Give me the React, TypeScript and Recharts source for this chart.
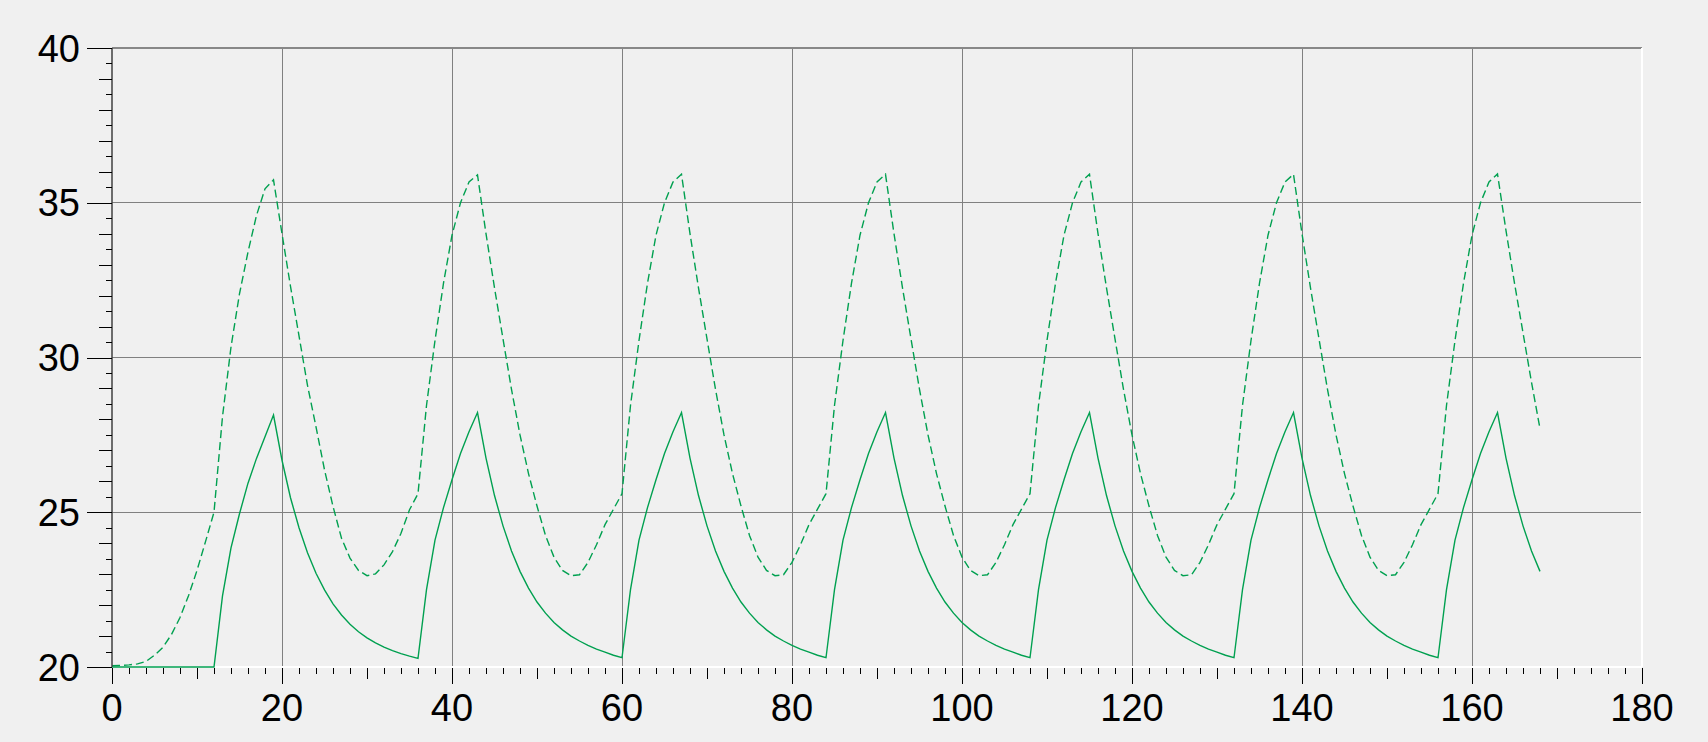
import React from 'react';
import { LineChart, Line, XAxis, YAxis, ReferenceLine } from 'recharts';

const hours = [
  0, 1, 2, 3, 4, 5, 6, 7, 8, 9, 10, 11, 12, 13, 14, 15, 16, 17, 18, 19,
  20, 21, 22, 23, 24, 25, 26, 27, 28, 29, 30, 31, 32, 33, 34, 35, 36, 37, 38, 39,
  40, 41, 42, 43, 44, 45, 46, 47, 48, 49, 50, 51, 52, 53, 54, 55, 56, 57, 58, 59,
  60, 61, 62, 63, 64, 65, 66, 67, 68, 69, 70, 71, 72, 73, 74, 75, 76, 77, 78, 79,
  80, 81, 82, 83, 84, 85, 86, 87, 88, 89, 90, 91, 92, 93, 94, 95, 96, 97, 98, 99,
  100, 101, 102, 103, 104, 105, 106, 107, 108, 109, 110, 111, 112, 113, 114, 115, 116, 117, 118, 119,
  120, 121, 122, 123, 124, 125, 126, 127, 128, 129, 130, 131, 132, 133, 134, 135, 136, 137, 138, 139,
  140, 141, 142, 143, 144, 145, 146, 147, 148, 149, 150, 151, 152, 153, 154, 155, 156, 157, 158, 159,
  160, 161, 162, 163, 164, 165, 166, 167, 168,
];

// solid line
const solidTemp = [
  20.0, 20.0, 20.0, 20.0, 20.0, 20.0, 20.0, 20.0, 20.0, 20.0, 20.0, 20.0, 20.0,
  22.3, 23.85, 24.95, 25.94, 26.74, 27.44, 28.14,
  26.68, 25.47, 24.5, 23.69, 23.03, 22.49, 22.04, 21.68, 21.38, 21.14, 20.94, 20.78, 20.64, 20.53, 20.43, 20.35, 20.28,
  22.5, 24.1, 25.15, 26.05, 26.9, 27.6, 28.22,
  26.75, 25.54, 24.56, 23.75, 23.09, 22.55, 22.1, 21.74, 21.44, 21.2, 21.0, 20.84, 20.7, 20.58, 20.48, 20.38, 20.3,
  22.5, 24.1, 25.15, 26.05, 26.9, 27.6, 28.22,
  26.75, 25.54, 24.56, 23.75, 23.09, 22.55, 22.1, 21.74, 21.44, 21.2, 21.0, 20.84, 20.7, 20.58, 20.48, 20.38, 20.3,
  22.5, 24.1, 25.15, 26.05, 26.9, 27.6, 28.22,
  26.75, 25.54, 24.56, 23.75, 23.09, 22.55, 22.1, 21.74, 21.44, 21.2, 21.0, 20.84, 20.7, 20.58, 20.48, 20.38, 20.3,
  22.5, 24.1, 25.15, 26.05, 26.9, 27.6, 28.22,
  26.75, 25.54, 24.56, 23.75, 23.09, 22.55, 22.1, 21.74, 21.44, 21.2, 21.0, 20.84, 20.7, 20.58, 20.48, 20.38, 20.3,
  22.5, 24.1, 25.15, 26.05, 26.9, 27.6, 28.22,
  26.75, 25.54, 24.56, 23.75, 23.09, 22.55, 22.1, 21.74, 21.44, 21.2, 21.0, 20.84, 20.7, 20.58, 20.48, 20.38, 20.3,
  22.5, 24.1, 25.15, 26.05, 26.9, 27.6, 28.22,
  26.75, 25.54, 24.56, 23.75, 23.09,
];

// dashed line
const dashedTemp = [
  20.04, 20.05, 20.07, 20.1, 20.18, 20.38, 20.64, 21.05, 21.6, 22.3, 23.12, 24.05, 25.0,
  28.09, 30.34, 32.06, 33.41, 34.59, 35.45, 35.74,
  34.0, 32.3, 30.7, 29.1, 27.76, 26.37, 25.19, 24.16, 23.52, 23.12, 22.95, 23.01, 23.3, 23.73, 24.32, 25.08, 25.6,
  28.45, 30.55, 32.4, 33.95, 35.0, 35.67, 35.9,
  34.0, 32.25, 30.6, 28.97, 27.5, 26.25, 25.2, 24.25, 23.55, 23.12, 22.95, 22.98, 23.38, 23.95, 24.6, 25.1, 25.6,
  28.45, 30.55, 32.4, 33.95, 35.0, 35.67, 35.92,
  34.0, 32.25, 30.6, 28.97, 27.5, 26.25, 25.2, 24.25, 23.55, 23.12, 22.95, 22.98, 23.38, 23.95, 24.6, 25.1, 25.6,
  28.45, 30.55, 32.4, 33.95, 35.0, 35.67, 35.92,
  34.0, 32.25, 30.6, 28.97, 27.5, 26.25, 25.2, 24.25, 23.55, 23.12, 22.95, 22.98, 23.38, 23.95, 24.6, 25.1, 25.6,
  28.45, 30.55, 32.4, 33.95, 35.0, 35.67, 35.92,
  34.0, 32.25, 30.6, 28.97, 27.5, 26.25, 25.2, 24.25, 23.55, 23.12, 22.95, 22.98, 23.38, 23.95, 24.6, 25.1, 25.6,
  28.45, 30.55, 32.4, 33.95, 35.0, 35.67, 35.92,
  34.0, 32.25, 30.6, 28.97, 27.5, 26.25, 25.2, 24.25, 23.55, 23.12, 22.95, 22.98, 23.38, 23.95, 24.6, 25.1, 25.6,
  28.45, 30.55, 32.4, 33.95, 35.0, 35.67, 35.93,
  34.1, 32.4, 30.8, 29.2, 27.7,
];

const xLabelValues = [0, 20, 40, 60, 80, 100, 120, 140, 160, 180];
const yLabelValues = [20, 25, 30, 35, 40];
const xGridValues = [20, 40, 60, 80, 100, 120, 140, 160];
const yGridValues = [25, 30, 35];

const xTicks: number[] = [];
for (let k = 0; k <= 90; k++) xTicks.push(k * 2);
const yTicks: number[] = [];
for (let k = 0; k <= 40; k++) yTicks.push(20 + k * 0.5);

const data = hours.map((h, i) => ({ hour: h, solid: solidTemp[i], dashed: dashedTemp[i] }));

const FONT = 'Arial, "Liberation Sans", sans-serif';
const GREEN = '#00a050';

const XTick = (props: any) => {
  const { x, y, payload } = props;
  const v = Math.round(payload.value);
  const len = v % 20 === 0 ? 16 : v % 10 === 0 ? 11 : 6;
  const isLabel = xLabelValues.includes(v);
  const px = Math.round(x) + 0.5;
  return (
    <g>
      <line x1={px} y1={y + 1} x2={px} y2={y + 1 + len} stroke="#000" strokeWidth={1} shapeRendering="crispEdges" />
      {isLabel && (
        <text x={x} y={y + 54} textAnchor="middle" fontSize={38} fontFamily={FONT} fill="#000">
          {v}
        </text>
      )}
    </g>
  );
};

const YTick = (props: any) => {
  const { x, y, payload } = props;
  const v = payload.value;
  const r2 = Math.round(v * 2);
  const len = r2 % 10 === 0 ? 25 : r2 % 2 === 0 ? 13 : 6;
  const isLabel = yLabelValues.includes(v);
  const py = Math.round(y) + 0.5;
  return (
    <g>
      <line x1={x - len} y1={py} x2={x} y2={py} stroke="#000" strokeWidth={1} shapeRendering="crispEdges" />
      {isLabel && (
        <text x={x - 32} y={y} dy="0.36em" textAnchor="end" fontSize={38} fontFamily={FONT} fill="#000">
          {v}
        </text>
      )}
    </g>
  );
};

export default function App() {
  return (
    <div
      style={{
        position: 'absolute',
        left: 0,
        top: 0,
        width: 1708,
        height: 742,
        background: '#f0f0f0',
        overflow: 'hidden',
      }}
    >
      <LineChart width={1708} height={742} data={data} margin={{ top: 48, right: 66, bottom: 0, left: 0 }}>
        <XAxis
          dataKey="hour"
          type="number"
          domain={[0, 180]}
          ticks={xTicks}
          interval={0}
          height={75}
          tickSize={0}
          tickMargin={0}
          tickLine={false}
          axisLine={false}
          tick={<XTick />}
          allowDecimals
        />
        <YAxis
          type="number"
          domain={[20, 40]}
          ticks={yTicks}
          interval={0}
          width={112}
          tickSize={0}
          tickMargin={0}
          tickLine={false}
          axisLine={{ stroke: '#404040', strokeWidth: 1.5 }}
          tick={<YTick />}
          allowDecimals
        />
        {xGridValues.map((v) => (
          <ReferenceLine key={'gx' + v} x={v} stroke="#808080" strokeWidth={1} shapeRendering="crispEdges" />
        ))}
        {yGridValues.map((v) => (
          <ReferenceLine key={'gy' + v} y={v} stroke="#808080" strokeWidth={1} shapeRendering="crispEdges" />
        ))}
        <ReferenceLine y={40} stroke="#888888" strokeWidth={2} />
        <ReferenceLine x={180} stroke="#ffffff" strokeWidth={2} />
        <ReferenceLine y={20} stroke="#ffffff" strokeWidth={2} />
        <Line
          type="linear"
          dataKey="dashed"
          stroke={GREEN}
          strokeWidth={1.4}
          strokeDasharray="8 4"
          dot={false}
          activeDot={false}
          isAnimationActive={false}
        />
        <Line
          type="linear"
          dataKey="solid"
          stroke={GREEN}
          strokeWidth={1.4}
          dot={false}
          activeDot={false}
          isAnimationActive={false}
        />
      </LineChart>
    </div>
  );
}
